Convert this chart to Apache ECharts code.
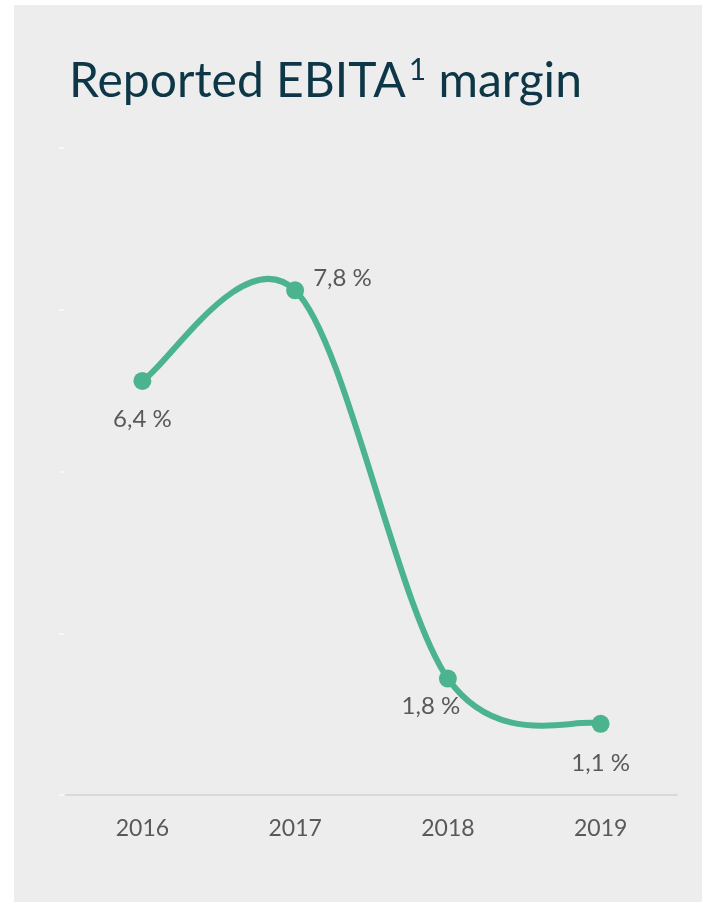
<!DOCTYPE html>
<html>
<head>
<meta charset="utf-8">
<script src="https://cdn.jsdelivr.net/npm/echarts@6/dist/echarts.min.js"></script>
<style>
html,body{margin:0;padding:0;background:#ffffff;width:702px;height:902px;overflow:hidden;}
#chart{position:absolute;left:14px;top:5px;width:688px;height:897px;background:#ededed;}
</style>
</head>
<body>
<div id="chart"></div>
<script>
const categories = ['2016', '2017', '2018', '2019'];
const marginValues = [6.4, 7.8, 1.8, 1.1];
const yTicks = { min: 0, max: 10, interval: 2.5 };

const labelPlacement = [
  { position: 'bottom', distance: 17, offset: [0, 0] },
  { position: 'right', distance: 9, offset: [0, -12] },
  { position: 'bottom', distance: 7, offset: [-17, 0] },
  { position: 'bottom', distance: 18, offset: [0, 0] }
];

const lineColor = '#4bb48e';
const fontFam = 'Lato, "Open Sans", sans-serif';
const chart = echarts.init(document.getElementById('chart'), null, { renderer: 'canvas' });

// Smooth curve (Catmull-Rom style, like the spreadsheet smoothing) drawn
// segment by segment from the data through the axes' coordinate mapping.
function renderSegment(params, api) {
  const i = params.dataIndexInside;
  const n = params.dataInsideLength;
  if (i >= n - 1) return null;
  const pt = j => {
    const k = Math.max(0, Math.min(n - 1, j));
    return api.coord([api.value(0, k), api.value(1, k)]);
  };
  const p0 = pt(i - 1), p1 = pt(i), p2 = pt(i + 1), p3 = pt(i + 2);
  const t = 1 / 6;
  return {
    type: 'bezierCurve',
    shape: {
      x1: p1[0], y1: p1[1],
      x2: p2[0], y2: p2[1],
      cpx1: p1[0] + (p2[0] - p0[0]) * t,
      cpy1: p1[1] + (p2[1] - p0[1]) * t,
      cpx2: p2[0] - (p3[0] - p1[0]) * t,
      cpy2: p2[1] - (p3[1] - p1[1]) * t
    },
    style: { stroke: lineColor, lineWidth: 6, fill: null, lineCap: 'round' }
  };
}

chart.setOption({
  backgroundColor: '#ededed',
  animation: false,
  title: {
    left: 50,
    top: 44,
    text: '{a|Reported EBITA}{s|1}{a| margin}',
    textStyle: {
      fontWeight: 'normal',
      rich: {
        a: { fontFamily: fontFam, fontSize: 48, fontWeight: 'normal', color: '#0d3647', lineHeight: 56 },
        s: { fontFamily: fontFam, fontSize: 30, fontWeight: 'normal', color: '#0d3647', verticalAlign: 'top', lineHeight: 30, padding: [1, 0, 0, 3] }
      }
    }
  },
  grid: { left: 52, right: 25, top: 143, bottom: 107, containLabel: false },
  xAxis: {
    type: 'category',
    data: categories,
    boundaryGap: true,
    axisLine: { show: true, lineStyle: { color: '#d9d9d9', width: 2 } },
    axisTick: { show: false },
    axisLabel: { color: '#595959', fontFamily: fontFam, fontSize: 23, margin: 22 }
  },
  yAxis: {
    type: 'value',
    min: yTicks.min,
    max: yTicks.max,
    interval: yTicks.interval,
    offset: 2,
    axisLine: { show: false },
    axisTick: { show: true, length: 5, lineStyle: { color: '#fafafa', width: 1.5 } },
    axisLabel: { show: false },
    splitLine: { show: false }
  },
  series: [
    {
      type: 'custom',
      z: 2,
      renderItem: renderSegment,
      encode: { x: 0, y: 1 },
      data: marginValues.map((v, i) => [i, v]),
      silent: true
    },
    {
      type: 'line',
      z: 3,
      data: marginValues.map((v, i) => ({
        value: v,
        label: labelPlacement[i]
      })),
      symbol: 'circle',
      symbolSize: 18,
      lineStyle: { width: 0, opacity: 0 },
      itemStyle: { color: lineColor },
      label: {
        show: true,
        color: '#595959',
        fontFamily: fontFam,
        fontSize: 24,
        formatter: p => p.value.toFixed(1).replace('.', ',') + ' %'
      }
    }
  ]
});
</script>
</body>
</html>
